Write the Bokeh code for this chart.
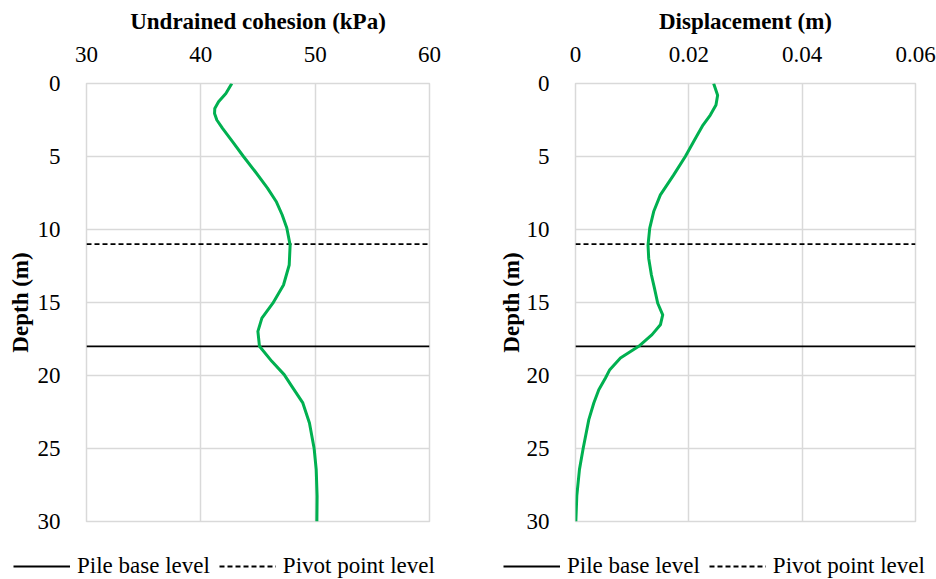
from bokeh.plotting import figure
from bokeh.layouts import row, column
from bokeh.models import Range1d, Legend, LegendItem, FixedTicker, NumeralTickFormatter, CustomJSTickFormatter
from bokeh.embed import file_html
from bokeh.resources import INLINE

# ---- data ----
cu_depth = [0.0, 0.68, 1.25, 1.71, 2.05, 2.5, 3.07, 3.98, 5.0, 6.03, 7.17, 8.08, 8.99, 9.9,
            11.07, 12.43, 13.8, 15.05, 16.07, 16.98, 18.0, 19.03, 19.94, 20.74, 21.88, 23.25,
            25.0, 26.43, 28.25, 30.0]
cu_value = [42.71, 42.19, 41.55, 41.22, 41.2, 41.4, 41.9, 42.77, 43.73, 44.75, 45.83, 46.59,
            47.11, 47.52, 47.81, 47.73, 47.23, 46.3, 45.34, 44.99, 45.13, 46.21, 47.29, 47.96,
            48.92, 49.5, 49.91, 50.09, 50.17, 50.15]

disp_depth = [0.0, 0.8, 1.48, 2.16, 2.85, 3.76, 5.0, 6.26, 7.63, 8.77, 9.9, 11.07, 11.98, 13.1,
              14.0, 15.05, 15.85, 16.53, 17.2, 18.0, 18.8, 19.6, 20.17, 20.97, 21.88, 23.02,
              25.0, 26.43, 28.25, 30.0]
disp_value = [0.02438, 0.02508, 0.02479, 0.02379, 0.0225, 0.02115, 0.01938, 0.01733, 0.01498,
              0.0138, 0.0131, 0.0128, 0.01292, 0.01339, 0.01392, 0.01451, 0.01539, 0.01498,
              0.01351, 0.01116, 0.00793, 0.00605, 0.00529, 0.00411, 0.00323, 0.00235, 0.00135,
              0.0007, 0.00023, 0.00006]

pile_base_depth = 18.0
pivot_depth = 11.0
depth_ticks = [0, 5, 10, 15, 20, 25, 30]
cu_ticks = [30, 40, 50, 60]
disp_ticks = [0, 0.02, 0.04, 0.06]
legend_labels = ["Pile base level", "Pivot point level"]

GREEN = "#00b050"
GRID = "#d9d9d9"
FONT = "Liberation Serif"
FS = "23px"
PLOT_H = 540
STRIP_H = 579 - PLOT_H
NAN = float("nan")


def make_panel(x_lo, x_hi, xticks, xs, ys, xtitle, width, bl, br, ylab_standoff, fmt):
    p = figure(width=width, height=PLOT_H, output_backend="svg", toolbar_location=None,
               x_range=Range1d(x_lo, x_hi), y_range=Range1d(30, 0),
               x_axis_location="above", min_border_left=bl, min_border_right=br,
               min_border_top=83, min_border_bottom=PLOT_H - 521)
    p.outline_line_color = GRID
    p.outline_line_width = 1.5
    for ax in (p.xaxis[0], p.yaxis[0]):
        ax.axis_line_color = None
        ax.major_tick_line_color = None
        ax.minor_tick_line_color = None
        ax.major_label_text_font = FONT
        ax.major_label_text_font_size = FS
        ax.major_label_text_color = "#000000"
        ax.axis_label_text_font = FONT
        ax.axis_label_text_font_size = FS
        ax.axis_label_text_font_style = "bold"
        ax.axis_label_text_color = "#000000"
    p.xaxis[0].ticker = FixedTicker(ticks=xticks)
    p.xaxis[0].formatter = fmt
    p.xaxis[0].axis_label = xtitle
    p.xaxis[0].major_label_standoff = 16
    p.xaxis[0].axis_label_standoff = 10
    p.yaxis[0].ticker = FixedTicker(ticks=depth_ticks)
    p.yaxis[0].axis_label = "Depth (m)"
    p.yaxis[0].major_label_standoff = 20
    p.yaxis[0].axis_label_standoff = ylab_standoff
    p.xgrid.grid_line_color = GRID
    p.ygrid.grid_line_color = GRID
    p.xgrid.grid_line_width = 1.5
    p.ygrid.grid_line_width = 1.5
    p.xgrid.ticker = FixedTicker(ticks=xticks)
    p.ygrid.ticker = FixedTicker(ticks=depth_ticks)

    p.line([x_lo, x_hi], [pile_base_depth, pile_base_depth], line_color="black", line_width=1.8)
    p.line([x_lo, x_hi], [pivot_depth, pivot_depth], line_color="black", line_width=1.8,
           line_dash="5 3")
    p.line(xs, ys, line_color=GREEN, line_width=3, line_join="round")
    return p


def make_legend_strip(width, legend_x):
    s = figure(width=width, height=STRIP_H, output_backend="svg", toolbar_location=None,
               x_range=Range1d(0, 1), y_range=Range1d(0, 1),
               min_border_left=0, min_border_right=0, min_border_top=0, min_border_bottom=0)
    s.axis.visible = False
    s.grid.visible = False
    s.outline_line_color = None
    r_pile = s.line(x=[NAN, NAN], y=[NAN, NAN], line_color="black", line_width=1.8)
    r_piv = s.line(x=[NAN, NAN], y=[NAN, NAN], line_color="black", line_width=1.8, line_dash="5 3")
    leg = Legend(items=[LegendItem(label=legend_labels[0], renderers=[r_pile]),
                        LegendItem(label=legend_labels[1], renderers=[r_piv])],
                 orientation="horizontal", location=(legend_x, 0),
                 label_text_font=FONT, label_text_font_size=FS, label_text_color="#000000",
                 glyph_width=57, glyph_height=20, label_standoff=7, spacing=9,
                 padding=0, margin=0, border_line_color=None, background_fill_alpha=0)
    s.add_layout(leg, "center")
    return s


left = make_panel(30, 60, cu_ticks, cu_value, cu_depth, "Undrained cohesion (kPa)",
                  468, 86, 39, 2, NumeralTickFormatter(format="0"))
right = make_panel(0, 0.06, disp_ticks, disp_value, disp_depth, "Displacement (m)",
                   468, 107, 21, 0,
                   CustomJSTickFormatter(code="return tick == 0 ? '0' : tick.toFixed(2);"))
left_leg = make_legend_strip(468, 13)
right_leg = make_legend_strip(468, 35)

layout = column(row(left, right), row(left_leg, right_leg))
open("out.html", "w").write(file_html(layout, INLINE))
